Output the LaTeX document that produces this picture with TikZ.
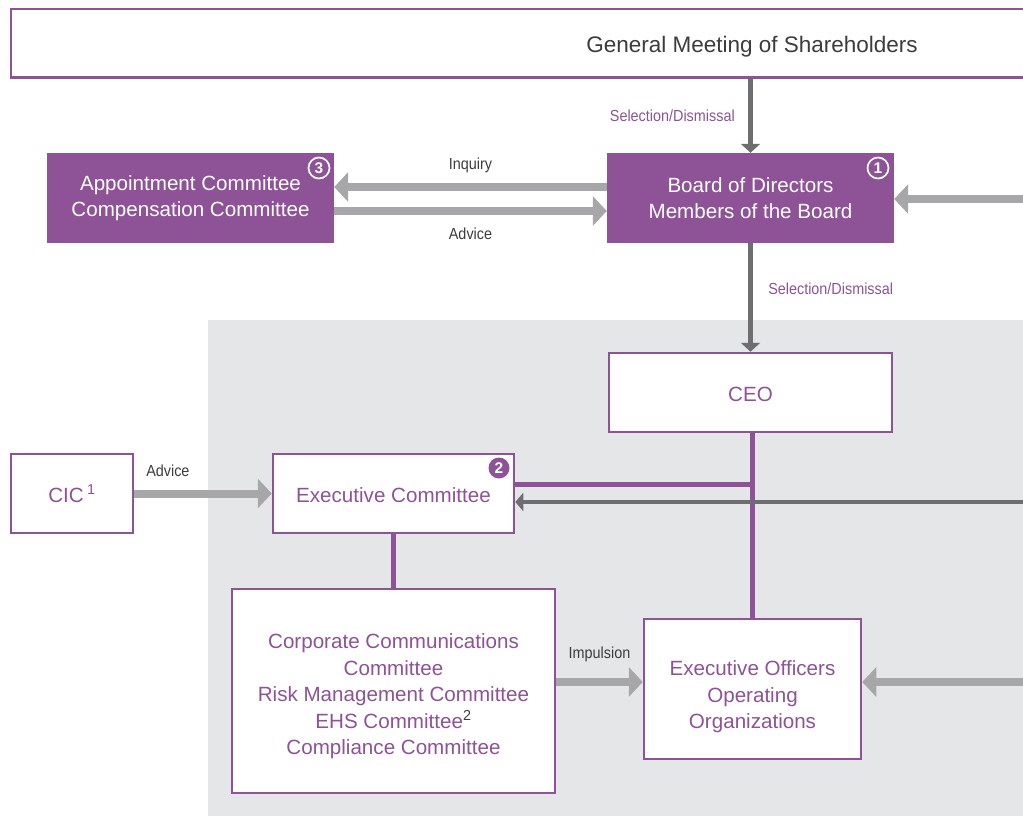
\documentclass[tikz,border=0pt]{standalone}
\usepackage{fontspec}
\setmainfont{Liberation Sans}
\newfontfamily\govtagfamily[FakeStretch=0.9]{Liberation Sans}
\usepackage{xcolor}
\usepackage{tikz}
\usetikzlibrary{arrows.meta}
\definecolor{govpurple}{RGB}{142, 82, 150}
\definecolor{arrowdark}{RGB}{110, 110, 112}
\definecolor{arrowlight}{RGB}{167, 167, 170}
\definecolor{panelgray}{RGB}{229, 230, 232}
\definecolor{textdark}{RGB}{60, 60, 62}
\newcommand{\govboxfont}{\fontsize{20.6}{26.5}\selectfont}
\newcommand{\govtagfont}{\govtagfamily\fontsize{16}{18}\selectfont}

\begin{document}
\begin{tikzpicture}[
    x=1pt, y=-1pt,
    solidbox/.style={rectangle, fill=govpurple, text=white, align=center, inner sep=0pt, font=\govboxfont},
    openbox/.style={rectangle, draw=govpurple, line width=2.5pt, fill=white, text=govpurple, align=center, inner sep=0pt, font=\govboxfont},
    badge/.style={circle, draw=white, line width=1.7pt, text=white, inner sep=0pt, minimum size=21pt, font=\bfseries\fontsize{15.5}{15.5}\selectfont},
    tag/.style={font=\govtagfont, inner sep=1pt, text=textdark},
    darkarrow/.style={-{Triangle[width=19pt, length=9pt]}, line width=5.5pt, draw=arrowdark},
    lightarrow/.style={-{Triangle[width=29pt, length=14pt]}, line width=8pt, draw=arrowlight},
    link/.style={line width=5pt, draw=govpurple}
]
    \useasboundingbox (0,0) rectangle (1023,816);
    \clip (0,0) rectangle (1023,816);
    \fill[panelgray] (208,320) rectangle (1023,816);

    \node[openbox, text=textdark, font=\fontsize{22.5}{26}\selectfont, minimum width=1482pt, minimum height=68.5pt] (gms) at (752,43.5) {\rule{0pt}{22pt}General Meeting of Shareholders};

    \node[solidbox, minimum width=287pt, minimum height=90pt] (board) at (750.5,198) {Board of Directors\\Members of the Board};
    \node[solidbox, minimum width=287pt, minimum height=90pt] (appt) at (190.5,198) {Appointment Committee\\Compensation Committee};

    \node[openbox, minimum width=283pt, minimum height=79pt] (ceo) at (750.5,392.5) {\rule{0pt}{18pt}CEO};
    \node[openbox, minimum width=241pt, minimum height=79pt] (excom) at (393.5,493.5) {\rule{0pt}{18pt}Executive Committee};
    \node[openbox, minimum width=122pt, minimum height=79pt] (cic) at (72,493.5) {CIC\,\textsuperscript{1}};

    \node[openbox, minimum width=323pt, minimum height=204pt] (comms) at (393.5,691) {\rule{0pt}{26pt}Corporate Communications\\Committee\\Risk Management Committee\\EHS Committee\textsuperscript{\color{textdark}2}\\Compliance Committee};
    \node[openbox, minimum width=217pt, minimum height=140pt] (eo) at (752.5,689) {\rule{0pt}{31pt}Executive Officers\\Operating\\Organizations};

    \node[badge] (badge1) at (878,168) {1};
    \node[badge] (badge3) at (319,168) {3};
    \node[badge, fill=govpurple, draw=none] (badge2) at (499,468) {2};

    \coordinate (edgeboard) at (1023,199);
    \coordinate (edgeexcom) at (1023,502);
    \coordinate (edgeeo) at (1023,682);
    \coordinate (split) at (752,484);

    \draw[link] (split |- ceo.south) -- (split |- eo.north);
    \draw[link] (split) -- (excom.east |- split);
    \draw[link] (excom) -- (comms);

    \draw[darkarrow] (board.north |- gms.south) -- node[tag, text=govpurple, left=12pt] {Selection/Dismissal} (board.north);
    \draw[darkarrow] (board) -- node[tag, text=govpurple, pos=0.42, right=14pt] {Selection/Dismissal} (ceo);

    \draw[lightarrow] (board.west |- 0,187) -- node[tag, above=9pt] {Inquiry} (appt.east |- 0,187);
    \draw[lightarrow] (appt.east |- 0,211) -- node[tag, below=12pt] {Advice} (board.west |- 0,211);
    \draw[lightarrow] (edgeboard) -- (board.east |- edgeboard);

    \draw[lightarrow] (cic) -- node[tag, pos=0, anchor=south west, xshift=7pt, yshift=12pt] {Advice} (excom);
    \draw[darkarrow, line width=4.5pt, -{Triangle[width=18pt, length=8pt]}] (edgeexcom) -- (excom.east |- edgeexcom);

    \draw[lightarrow] (comms.east |- 0,682) -- node[tag, above=15pt] {Impulsion} (eo.west |- 0,682);
    \draw[lightarrow] (edgeeo) -- (eo.east |- edgeeo);
\end{tikzpicture}
\end{document}
